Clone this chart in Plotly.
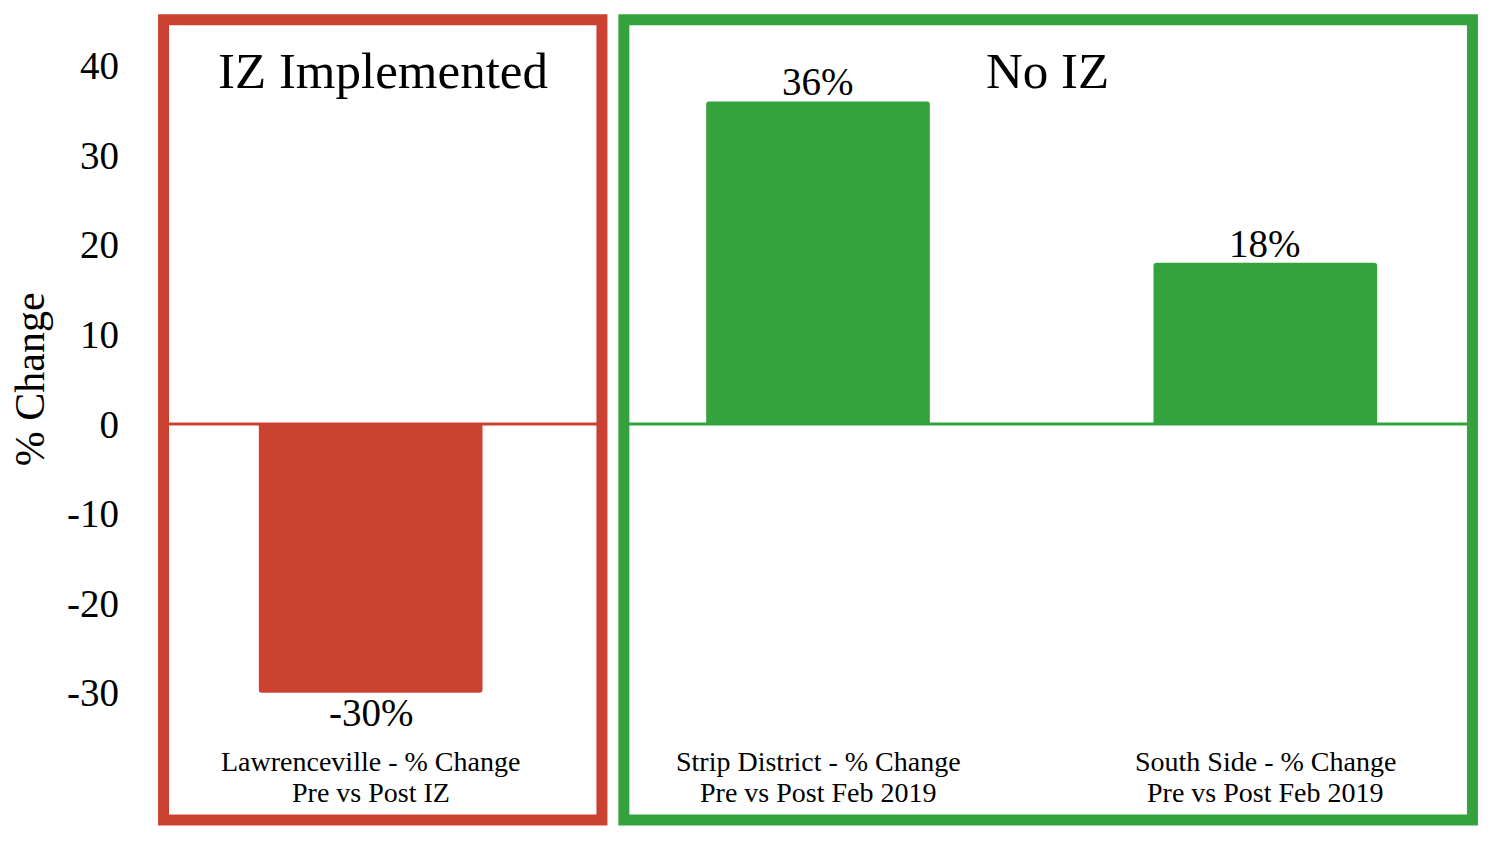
import plotly.graph_objects as go

# data
neighborhoods = ["Lawrenceville", "Strip District", "South Side"]
periods = ["Pre vs Post IZ", "Pre vs Post Feb 2019", "Pre vs Post Feb 2019"]
pct_change = [-30, 36, 18]
groups = ["IZ Implemented", "No IZ", "No IZ"]
y_ticks = [-30, -20, -10, 0, 10, 20, 30, 40]
y_tick_labels = ["-30", "-20", "-10", "0", "10", "20", "30", "40"]

RED = "#CC4232"
GREEN = "#34A33E"
FONT = "Liberation Serif"

bar_colors = [RED if g == "IZ Implemented" else GREEN for g in groups]

fig = go.Figure()
fig.add_trace(go.Bar(
    x=[0, 1, 2],
    y=pct_change,
    width=0.5,
    marker=dict(color=bar_colors, line=dict(width=0), cornerradius=3),
    showlegend=False,
))

# value labels just past the bar ends
for i, v in enumerate(pct_change):
    fig.add_annotation(x=i, y=v, xref="x", yref="y", text=f"{v}%",
                       xanchor="center", yanchor="bottom" if v > 0 else "top",
                       yshift=-4 if v > 0 else 4, showarrow=False,
                       font=dict(family=FONT, size=39, color="black"))

# framed boxes around the two groups
fig.add_shape(type="rect", xref="x", yref="y", x0=-0.463, x1=0.517, y0=-44.2, y1=45.1,
              line=dict(color=RED, width=11), layer="above")
fig.add_shape(type="rect", xref="x", yref="y", x0=0.566, x1=2.463, y0=-44.2, y1=45.1,
              line=dict(color=GREEN, width=11), layer="above")
# zero lines
fig.add_shape(type="line", xref="x", yref="y", x0=-0.463, x1=0.517, y0=0, y1=0,
              line=dict(color=RED, width=3))
fig.add_shape(type="line", xref="x", yref="y", x0=0.566, x1=2.463, y0=0, y1=0,
              line=dict(color=GREEN, width=3))

# group titles
fig.add_annotation(x=0.0275, y=39.4, xref="x", yref="y", text="IZ Implemented",
                   xanchor="center", showarrow=False,
                   font=dict(family=FONT, size=51, color="black"))
fig.add_annotation(x=1.514, y=39.4, xref="x", yref="y", text="No IZ",
                   xanchor="center", showarrow=False,
                   font=dict(family=FONT, size=51, color="black"))

# category labels inside the boxes (two lines each)
for i, (name, per) in enumerate(zip(neighborhoods, periods)):
    fig.add_annotation(x=i, y=-37.7, xref="x", yref="y", text=f"{name} - % Change",
                       xanchor="center", showarrow=False,
                       font=dict(family=FONT, size=28, color="black"))
    fig.add_annotation(x=i, y=-41.1, xref="x", yref="y", text=per,
                       xanchor="center", showarrow=False,
                       font=dict(family=FONT, size=28, color="black"))

# y axis title
fig.add_annotation(x=-0.0872, y=5.0, xref="paper", yref="y", text="% Change",
                   textangle=-90, xanchor="center", yanchor="middle", showarrow=False,
                   font=dict(family=FONT, size=42, color="black"))

# page body adds an 8px offset, so the figure is 8px smaller and margins shifted
fig.update_layout(
    width=1492, height=836,
    margin=dict(l=139, r=11, t=2, b=10),
    paper_bgcolor="white",
    plot_bgcolor="white",
    font=dict(family=FONT, color="black"),
)
fig.update_xaxes(range=[-0.5, 2.5], showticklabels=False, showgrid=False,
                 zeroline=False, showline=False)
fig.update_yaxes(range=[-45.76, 46.2], tickvals=y_ticks, ticktext=y_tick_labels,
                 tickfont=dict(family=FONT, size=39, color="black"),
                 ticklabelstandoff=27,
                 showgrid=False, zeroline=False, showline=False)

fig.write_html("out.html")
